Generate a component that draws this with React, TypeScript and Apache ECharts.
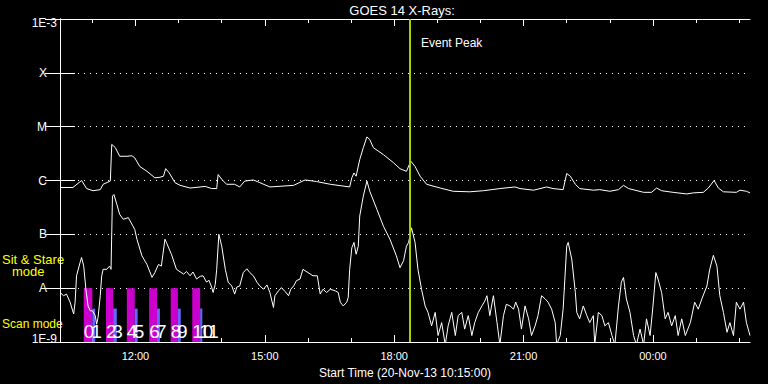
import React, { useEffect, useRef } from 'react';
import * as echarts from 'echarts';

// minutes after start time 20-Nov-13 10:15:00
const hourTicks = [45, 105, 165, 225, 285, 345, 405, 465, 525, 585, 645, 705, 765, 825, 885, 945];
const labelTicks = [105, 285, 465, 645, 825];
const labelTexts = ['12:00', '15:00', '18:00', '21:00', '00:00'];
const classLabels: Record<string, string> = {
  '-3': '1E-3', '-4': 'X', '-5': 'M', '-6': 'C', '-7': 'B', '-8': 'A', '-9': '1E-9',
};
const eventPeakMin = 487;

// [minute, log10 flux]
const longChannel = [
  [0, -6.13], [18, -6.13], [30, -6.0], [37, -6.15], [46, -6.19], [56, -6.17], [60, -6.07], [70, -6.01],
  [72, -5.33], [77, -5.39], [83, -5.55], [93, -5.55], [100, -5.54], [104, -5.58], [111, -5.74], [121, -5.83],
  [132, -5.95], [139, -5.94], [144, -5.92], [147, -5.78], [152, -5.86], [160, -6.04], [167, -6.09], [181, -6.14],
  [195, -6.12], [202, -6.11], [211, -6.15], [218, -6.15], [220, -5.89], [227, -6.01], [232, -6.07], [243, -6.07],
  [250, -6.12], [257, -6.01], [269, -5.99], [278, -6.04], [292, -6.12], [325, -6.09], [341, -5.99], [357, -6.02],
  [376, -6.07], [403, -6.12], [406, -5.95], [409, -5.86], [412, -5.92], [417, -5.61], [422, -5.39], [427, -5.19],
  [431, -5.24], [436, -5.39], [450, -5.52], [464, -5.67], [473, -5.78], [482, -5.83], [488, -5.64], [494, -5.74],
  [501, -5.92], [510, -6.07], [529, -6.14], [547, -6.2], [570, -6.21], [589, -6.19], [612, -6.15], [633, -6.12],
  [640, -6.15], [659, -6.18], [677, -6.12], [686, -6.15], [700, -6.17], [705, -5.87], [710, -5.92], [717, -6.07],
  [723, -6.15], [742, -6.18], [751, -6.17], [765, -6.2], [777, -6.17], [784, -6.09], [791, -6.15], [812, -6.22],
  [823, -6.22], [830, -6.14], [837, -6.19], [853, -6.22], [872, -6.25], [881, -6.23], [895, -6.22], [902, -6.14],
  [910, -6.0], [916, -6.14], [923, -6.21], [941, -6.22], [946, -6.18], [955, -6.2], [960, -6.23],
];

const shortChannel = [
  [0, -8.08], [5, -8.14], [9, -8.11], [14, -8.26], [19, -8.48], [21, -8.26], [23, -7.77], [28, -7.52],
  [30, -7.43], [33, -7.59], [36, -8.02], [39, -8.33], [42, -8.42], [45, -8.42], [49, -8.51], [51, -8.67],
  [53, -8.54], [56, -8.14], [58, -7.77], [60, -7.65], [65, -7.65], [69, -7.59], [71, -7.65], [73, -6.29],
  [75, -6.26], [79, -6.44], [83, -6.63], [88, -6.72], [95, -6.69], [100, -6.81], [104, -6.91], [107, -7.09],
  [114, -7.4], [121, -7.56], [128, -7.8], [132, -7.71], [137, -7.56], [141, -7.59], [146, -7.09], [148, -7.15],
  [155, -7.37], [162, -7.65], [172, -7.74], [176, -7.69], [181, -7.77], [185, -7.7], [190, -7.83], [195, -7.78],
  [199, -7.77], [204, -7.89], [207, -7.85], [211, -7.98], [213, -8.08], [216, -7.93], [218, -7.65], [221, -7.0],
  [225, -7.22], [230, -7.65], [234, -7.89], [239, -7.96], [243, -8.11], [246, -7.98], [250, -7.96], [255, -7.71],
  [260, -7.64], [264, -7.71], [269, -7.77], [274, -7.89], [278, -7.96], [283, -8.02], [288, -7.94], [292, -8.08],
  [297, -8.36], [299, -8.14], [304, -8.05], [308, -7.99], [313, -8.06], [318, -8.14], [321, -8.02], [325, -7.96],
  [329, -7.86], [334, -7.83], [338, -7.65], [345, -7.71], [352, -7.77], [358, -7.77], [362, -8.11], [366, -8.02],
  [371, -8.08], [376, -8.02], [383, -8.05], [387, -8.08], [390, -8.26], [394, -8.33], [399, -8.26], [401, -8.17],
  [403, -7.65], [406, -7.25], [409, -7.15], [412, -7.37], [415, -7.22], [417, -6.66], [422, -6.29], [427, -6.01],
  [431, -6.2], [441, -6.54], [450, -6.85], [459, -7.09], [468, -7.4], [473, -7.62], [478, -7.49], [482, -7.22],
  [485, -7.15], [489, -6.88], [494, -7.15], [498, -7.65], [503, -8.02], [508, -8.33], [512, -8.45], [517, -8.7],
  [522, -8.45], [526, -8.88], [531, -8.64], [536, -9.05], [540, -8.7], [545, -8.45], [550, -8.88], [554, -8.51],
  [559, -8.45], [563, -8.76], [568, -8.51], [573, -8.88], [577, -8.64], [582, -8.45], [587, -8.33], [591, -8.24],
  [594, -8.14], [598, -8.51], [603, -8.14], [608, -8.64], [612, -9.05], [617, -8.51], [621, -8.3], [626, -8.33],
  [631, -8.39], [634, -8.26], [638, -8.39], [642, -8.76], [647, -8.33], [652, -8.57], [656, -8.88], [661, -8.7],
  [665, -8.51], [670, -8.14], [675, -8.2], [679, -8.26], [684, -8.39], [689, -8.64], [691, -9.05], [696, -8.88],
  [700, -8.39], [705, -7.22], [707, -7.15], [712, -7.46], [717, -8.08], [719, -8.45], [723, -8.57], [728, -8.33],
  [733, -8.51], [737, -8.64], [742, -8.51], [744, -9.05], [749, -8.45], [754, -8.51], [758, -8.7], [763, -8.64],
  [768, -8.88], [772, -9.05], [777, -8.33], [781, -7.89], [784, -7.8], [788, -8.2], [793, -8.45], [798, -8.88],
  [802, -9.05], [807, -8.76], [812, -9.05], [816, -8.57], [821, -8.88], [825, -8.33], [829, -7.71], [832, -7.83],
  [837, -8.08], [842, -8.57], [846, -8.45], [851, -8.7], [856, -8.51], [860, -8.88], [865, -8.57], [870, -8.88],
  [877, -8.64], [883, -8.26], [888, -8.39], [893, -8.2], [900, -7.96], [904, -7.65], [909, -7.39], [914, -7.59],
  [918, -8.14], [923, -8.45], [928, -8.82], [932, -8.64], [937, -8.88], [941, -8.26], [946, -8.39], [951, -8.26],
  [955, -8.64], [960, -8.88],
];

// scan cycles: [sit&stare start, sit&stare end / scan start, scan end] in minutes
const scanBars = [
  [33, 45, 49], [64, 74, 79], [93, 104, 108], [124, 135, 139], [154, 164, 168], [184, 195, 198],
];
const scanNumbers = ['0', '1', '2', '3', '4', '5', '6', '7', '8', '9', '10', '11'];
const sitStareLevel = -8;
const scanLevel = -8.38;
const numberLevel = -8.81;

const FONT = 'Liberation Sans';

export default function App() {
  const ref = useRef<HTMLDivElement>(null);
  useEffect(() => {
    document.body.style.margin = '0';
    document.body.style.background = '#000';
    const chart = echarts.init(ref.current!, null, { renderer: 'svg' });
    const flux = (l: number) => Math.pow(10, l);
    const white = '#ffffff';
    const xBase = { type: 'value', min: 0, max: 960, splitLine: { show: false } };
    const yBase = { type: 'log', logBase: 10, min: 1e-9, max: 1e-3, splitNumber: 6 };
    chart.setOption({
      animation: false,
      backgroundColor: '#000000',
      grid: { left: 60, right: 18, top: 19, bottom: 41 },
      xAxis: [
        {
          ...xBase,
          position: 'bottom',
          axisLine: { show: true, lineStyle: { color: white, width: 1 } },
          axisTick: { show: true, inside: true, length: 4, customValues: hourTicks, lineStyle: { color: white } },
          axisLabel: {
            customValues: labelTicks,
            formatter: (v: number) => {
              const i = labelTicks.indexOf(Math.round(v));
              return i >= 0 ? labelTexts[i] : '';
            },
            color: white, fontFamily: FONT, fontSize: 11, margin: 8,
          },
          name: 'Start Time (20-Nov-13 10:15:00)',
          nameLocation: 'middle',
          nameGap: 25,
          nameTextStyle: { color: white, fontFamily: FONT, fontSize: 12 },
        },
        {
          ...xBase,
          position: 'bottom',
          axisLine: { show: false },
          axisTick: { show: true, inside: true, length: 7, customValues: labelTicks, lineStyle: { color: white } },
          axisLabel: { show: false },
        },
        {
          ...xBase,
          position: 'top',
          axisLine: { show: true, lineStyle: { color: white, width: 1 } },
          axisTick: { show: true, inside: true, length: 4, customValues: hourTicks, lineStyle: { color: white } },
          axisLabel: { show: false },
        },
        {
          ...xBase,
          position: 'top',
          axisLine: { show: false },
          axisTick: { show: true, inside: true, length: 7, customValues: labelTicks, lineStyle: { color: white } },
          axisLabel: { show: false },
        },
      ],
      yAxis: [
        {
          ...yBase,
          position: 'left',
          axisLine: { show: true, lineStyle: { color: white, width: 1 } },
          axisTick: { show: true, inside: true, length: 15, lineStyle: { color: white } },
          axisLabel: {
            showMinLabel: true,
            showMaxLabel: true,
            margin: 3,
            color: white,
            fontFamily: FONT,
            fontSize: 12,
            formatter: (v: number) => {
              const e = Math.round(Math.log10(v));
              const t = classLabels[String(e)] ?? '';
              if (e === -3) return `{t|${t}}`;
              if (e === -9) return `{b|${t}}`;
              return `{c|${t}}`;
            },
            rich: {
              c: { padding: [0, 10, 0, 0], color: white, fontFamily: FONT, fontSize: 12 },
              t: { padding: [8, 0, 0, 0], color: white, fontFamily: FONT, fontSize: 12 },
              b: { padding: [0, 0, 6, 0], color: white, fontFamily: FONT, fontSize: 12 },
            },
          },
          splitLine: { show: true, lineStyle: { color: white, width: 1, type: [1, 5] } },
        },
        {
          ...yBase,
          position: 'right',
          axisLine: { show: true, lineStyle: { color: white, width: 1 } },
          axisTick: { show: true, inside: true, length: 15, lineStyle: { color: white } },
          axisLabel: { show: false },
          splitLine: { show: false },
        },
      ],
      series: [
        {
          type: 'custom',
          z: 1,
          clip: true,
          encode: { x: [0, 1, 2], y: 3 },
          data: scanBars.map((b) => [b[0], b[1], b[2], flux(sitStareLevel)]),
          renderItem: (params: any, api: any) => {
            const i = params.dataIndex;
            const s = api.value(0);
            const m = api.value(1);
            const e = api.value(2);
            const p0 = api.coord([s, flux(sitStareLevel)]);
            const p1 = api.coord([m, flux(-9)]);
            const q0 = api.coord([m, flux(scanLevel)]);
            const q1 = api.coord([e, flux(-9)]);
            const ty = api.coord([s, flux(numberLevel)])[1];
            const numFont = "19px 'Liberation Sans Narrow', 'Liberation Sans', sans-serif";
            return {
              type: 'group',
              children: [
                { type: 'rect', shape: { x: p0[0], y: p0[1], width: p1[0] - p0[0], height: p1[1] - p0[1] }, style: { fill: '#cc00cc' } },
                { type: 'rect', shape: { x: q0[0], y: q0[1], width: q1[0] - q0[0], height: q1[1] - q0[1] }, style: { fill: '#6666ff' } },
                { type: 'text', x: p0[0], y: ty, style: { text: scanNumbers[2 * i], fill: white, font: numFont, verticalAlign: 'middle', textVerticalAlign: 'middle' } },
                { type: 'text', x: q0[0] - 1, y: ty, style: { text: scanNumbers[2 * i + 1], fill: white, font: numFont, verticalAlign: 'middle', textVerticalAlign: 'middle' } },
              ],
            };
          },
        },
        {
          type: 'line',
          z: 2,
          symbol: 'none',
          lineStyle: { color: white, width: 1 },
          data: shortChannel.map((d) => [d[0], flux(d[1])]),
        },
        {
          type: 'line',
          z: 3,
          symbol: 'none',
          lineStyle: { color: white, width: 1 },
          data: longChannel.map((d) => [d[0], flux(d[1])]),
          markLine: {
            silent: true,
            symbol: ['none', 'none'],
            label: { show: false },
            lineStyle: { color: '#a4d000', width: 2, type: 'solid' },
            data: [{ xAxis: eventPeakMin }],
          },
        },
      ],
      graphic: [
        { type: 'text', x: 402, y: 10, style: { text: 'GOES 14 X-Rays:', fill: white, font: `13px ${FONT}`, align: 'center', textAlign: 'center', verticalAlign: 'middle', textVerticalAlign: 'middle' } },
        { type: 'text', x: 421, y: 43, style: { text: 'Event Peak', fill: white, font: `12px ${FONT}`, verticalAlign: 'middle', textVerticalAlign: 'middle' } },
        { type: 'text', x: 2, y: 259, style: { text: 'Sit & Stare', fill: '#ffff00', font: `13px ${FONT}`, verticalAlign: 'middle', textVerticalAlign: 'middle' } },
        { type: 'text', x: 12, y: 271, style: { text: 'mode', fill: '#ffff00', font: `13px ${FONT}`, verticalAlign: 'middle', textVerticalAlign: 'middle' } },
        { type: 'text', x: 2, y: 324, style: { text: 'Scan mode', fill: '#ffff00', font: `12px ${FONT}`, verticalAlign: 'middle', textVerticalAlign: 'middle' } },
      ],
    });
    return () => chart.dispose();
  }, []);
  return <div ref={ref} style={{ width: 768, height: 384, background: '#000' }} />;
}
